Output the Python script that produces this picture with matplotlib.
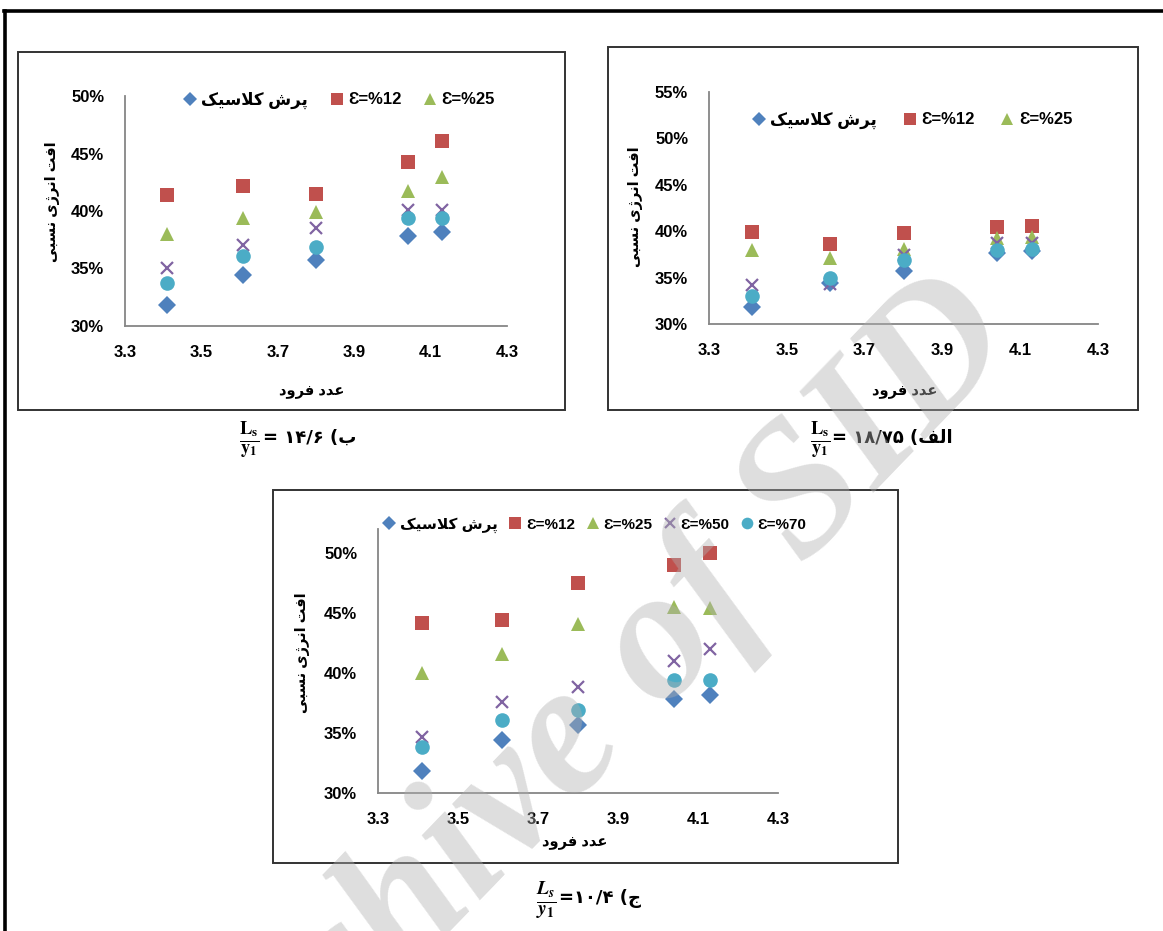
import matplotlib
matplotlib.use('Agg')
import matplotlib.pyplot as plt
from matplotlib.lines import Line2D
from matplotlib.patches import Rectangle

plt.rcParams['font.family'] = ['Liberation Sans', 'DejaVu Sans']
plt.rcParams['font.weight'] = 'bold'
plt.rcParams['mathtext.fontset'] = 'stix'

# Froude number (x axis), shared by all three panels
froude = [3.41, 3.61, 3.80, 4.04, 4.13]

# panel alef: Ls/y1 = 18.75 (relative energy loss, %)
alef_classic = [31.8, 34.4, 35.7, 37.7, 37.9]
alef_e12 = [39.9, 38.6, 39.8, 40.5, 40.6]
alef_e25 = [38.0, 37.1, 38.1, 39.3, 39.4]
alef_e50 = [34.2, 34.3, 37.4, 38.7, 38.7]
alef_e70 = [33.0, 35.0, 36.9, 38.0, 38.1]

# panel be: Ls/y1 = 14.6
be_classic = [31.8, 34.4, 35.7, 37.8, 38.2]
be_e12 = [41.4, 42.2, 41.5, 44.3, 46.1]
be_e25 = [38.0, 39.4, 39.9, 41.7, 43.0]
be_e50 = [35.0, 37.0, 38.5, 40.1, 40.1]
be_e70 = [33.7, 36.1, 36.9, 39.4, 39.4]

# panel jim: Ls/y1 = 10.4
jim_classic = [31.8, 34.4, 35.7, 37.8, 38.2]
jim_e12 = [44.2, 44.4, 47.5, 49.0, 50.0]
jim_e25 = [40.0, 41.6, 44.1, 45.5, 45.4]
jim_e50 = [34.7, 37.6, 38.8, 41.0, 42.0]
jim_e70 = [33.8, 36.1, 36.9, 39.4, 39.4]

series_names = ['پرش کلاسیک', 'Ɛ=%12', 'Ɛ=%25', 'Ɛ=%50', 'Ɛ=%70']
xticks = [3.3, 3.5, 3.7, 3.9, 4.1, 4.3]
xlabel = 'عدد فرود'
ylabel = 'افت انرژی نسبی'

# --- tiny Arabic/Persian shaper (matplotlib has no bidi / joining) ---
# isolated, final, initial, medial
FORMS = {
    'ا': ('\uFE8D', '\uFE8E', None, None),
    'ب': ('\uFE8F', '\uFE90', '\uFE91', '\uFE92'),
    'پ': ('\uFB56', '\uFB57', '\uFB58', '\uFB59'),
    'ت': ('\uFE95', '\uFE96', '\uFE97', '\uFE98'),
    'ج': ('\uFE9D', '\uFE9E', '\uFE9F', '\uFEA0'),
    'د': ('\uFEA9', '\uFEAA', None, None),
    'ر': ('\uFEAD', '\uFEAE', None, None),
    'ژ': ('\uFB8A', '\uFB8B', None, None),
    'س': ('\uFEB1', '\uFEB2', '\uFEB3', '\uFEB4'),
    'ش': ('\uFEB5', '\uFEB6', '\uFEB7', '\uFEB8'),
    'ع': ('\uFEC9', '\uFECA', '\uFECB', '\uFECC'),
    'ف': ('\uFED1', '\uFED2', '\uFED3', '\uFED4'),
    'ک': ('\uFB8E', '\uFB8F', '\uFB90', '\uFB91'),
    'ل': ('\uFEDD', '\uFEDE', '\uFEDF', '\uFEE0'),
    'ن': ('\uFEE5', '\uFEE6', '\uFEE7', '\uFEE8'),
    'و': ('\uFEED', '\uFEEE', None, None),
    'ی': ('\uFBFC', '\uFBFD', '\uFBFE', '\uFBFF'),
}


def shape(text):
    # only Persian strings are reshaped and put in visual order
    if not any(ch in FORMS for ch in text):
        return text
    out = []
    i = 0
    while i < len(text):
        ch = text[i]
        if ch not in FORMS:
            out.append(ch)
            i += 1
            continue
        prev = text[i - 1] if i > 0 else ''
        joins_prev = prev in FORMS and FORMS[prev][2] is not None
        if ch == 'ل' and i + 1 < len(text) and text[i + 1] == 'ا':
            out.append('\uFEFC' if joins_prev else '\uFEFB')
            i += 2
            continue
        nxt = text[i + 1] if i + 1 < len(text) else ''
        joins_next = FORMS[ch][2] is not None and nxt in FORMS
        iso, fin, ini, med = FORMS[ch]
        if joins_prev and joins_next:
            out.append(med)
        elif joins_prev:
            out.append(fin)
        elif joins_next:
            out.append(ini)
        else:
            out.append(iso)
        i += 1
    return ''.join(out)[::-1]


W, H = 1163, 931
fig = plt.figure(figsize=(W / 100, H / 100), dpi=100)


def rect(x0, y0, x1, y1):
    return [x0 / W, 1 - y1 / H, (x1 - x0) / W, (y1 - y0) / H]


colors = ['#4F81BD', '#C0504D', '#9BBB59', '#8064A2', '#4BACC6']
markers = ['D', 's', '^', 'x', 'o']
msizes = [9.5, 10, 10.5, 9, 10.5]


def panel(pos, data, ymax, xlab_xy, ylab_xy, leg_xy, nleg, colsp, legsize):
    ax = fig.add_axes(rect(*pos))
    lines = []
    for vals, c, m, ms, name in zip(data, colors, markers, msizes, series_names):
        if m == 'x':
            ln, = ax.plot(froude, vals, linestyle='none', marker=m, ms=ms,
                          mec=c, mew=1.6, label=shape(name))
        else:
            ln, = ax.plot(froude, vals, linestyle='none', marker=m, ms=ms,
                          mfc=c, mec=c, mew=0, label=shape(name))
        lines.append(ln)
    yt = list(range(30, min(ymax, 55) + 1, 5))
    ax.set_xlim(3.3, 4.3)
    ax.set_ylim(30, ymax)
    ax.set_xticks(xticks)
    ax.set_yticks(yt)
    ax.set_xticklabels(['%.1f' % t for t in xticks], fontweight='bold', fontsize=12)
    ax.set_yticklabels(['%d%%' % t for t in yt], fontweight='bold', fontsize=12)
    ax.tick_params(length=0, pad=14)
    ax.tick_params(axis='y', pad=15)
    for s in ['top', 'right']:
        ax.spines[s].set_visible(False)
    for s in ['left', 'bottom']:
        ax.spines[s].set_color('#868686')
        ax.spines[s].set_linewidth(1.3)
    ax.set_xlabel(shape(xlabel), fontsize=10.5, fontweight='bold')
    ax.xaxis.set_label_coords(*xlab_xy)
    ax.xaxis.label.set_verticalalignment('center')
    ax.set_ylabel(shape(ylabel), fontsize=10.5, fontweight='bold')
    ax.yaxis.set_label_coords(*ylab_xy)
    ax.yaxis.label.set_verticalalignment('center')
    ax.legend(handles=lines[:nleg], loc='center left', ncol=nleg,
              bbox_to_anchor=(leg_xy[0] / W, 1 - leg_xy[1] / H),
              bbox_transform=fig.transFigure, frameon=False,
              prop={'size': legsize, 'weight': 'bold'},
              markerscale=0.8, handlelength=0.8, handletextpad=0.3,
              columnspacing=colsp, borderpad=0, borderaxespad=0)
    return ax


# frames around each panel
for x0, y0, x1, y1 in [(18, 52, 565, 410), (608, 47, 1138, 410), (273, 490, 898, 863)]:
    fig.patches.append(Rectangle((x0 / W, 1 - y1 / H), (x1 - x0) / W, (y1 - y0) / H,
                                 transform=fig.transFigure, fill=False,
                                 edgecolor='#333333', lw=1.4))

# outer page border
fig.add_artist(Line2D([4 / W, 1], [1 - 11 / H, 1 - 11 / H], color='k', lw=2.6,
                      transform=fig.transFigure))
fig.add_artist(Line2D([5 / W, 5 / W], [1 - 11 / H, 0], color='k', lw=2.6,
                      transform=fig.transFigure))

panel((125, 96, 507, 326),
      [be_classic, be_e12, be_e25, be_e50, be_e70], 50,
      (0.49, -0.287), (-0.191, 0.539), (183, 100), 3, 1.3, 12)
panel((709, 92, 1098, 324),
      [alef_classic, alef_e12, alef_e25, alef_e50, alef_e70], 55,
      (0.504, -0.293), (-0.19, 0.504), (752, 120), 3, 1.55, 12)
panel((378, 529, 778, 793),
      [jim_classic, jim_e12, jim_e25, jim_e50, jim_e70], 52,
      (0.4925, -0.189), (-0.1875, 0.53), (383, 525), 5, 0.75, 11)

# captions under the panels
frac_bf = r'$\frac{\mathbf{L_s}}{\mathbf{y_1}}$'
frac_it = r'$\frac{L_s}{y_1}$'
fig.text(249 / W, 1 - 440 / H, frac_bf, fontsize=19, ha='center', va='center')
fig.text(263 / W, 1 - 438 / H, '= ۱۴/۶ (' + shape('ب'), fontsize=13,
         ha='left', va='center', family='DejaVu Sans')
fig.text(820 / W, 1 - 440 / H, frac_bf, fontsize=19, ha='center', va='center')
fig.text(832 / W, 1 - 438 / H, '= ۱۸/۷۵ (' + shape('الف'), fontsize=13,
         ha='left', va='center', family='DejaVu Sans')
fig.text(546 / W, 1 - 900 / H, frac_it, fontsize=20, ha='center', va='center')
fig.text(559 / W, 1 - 898 / H, '=۱۰/۴ (' + shape('ج'), fontsize=13,
         ha='left', va='center', family='DejaVu Sans')

# watermark of the source scan
fig.text(585 / W, 1 - 735 / H, 'Archive of SID', fontsize=135, family='Liberation Serif',
         style='italic', fontweight='bold', color='#b0b0b0', alpha=0.42,
         rotation=46, rotation_mode='anchor', ha='center', va='center', zorder=10)

fig.savefig('out.png', dpi=100)
